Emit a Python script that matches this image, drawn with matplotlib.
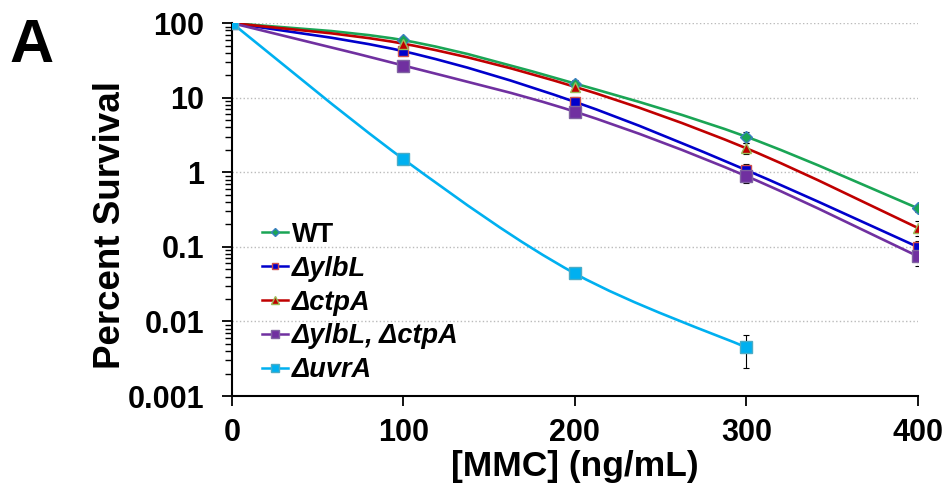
import numpy as np
import matplotlib.pyplot as plt
from matplotlib.path import Path
from matplotlib.patches import PathPatch
from matplotlib.lines import Line2D

plt.rcParams['font.family'] = ['Liberation Sans', 'DejaVu Sans']
plt.rcParams['font.weight'] = 'bold'

# data
mmc = [0, 100, 200, 300, 400]
labels = ['WT', '\u0394ylbL', '\u0394ctpA', '\u0394ylbL, \u0394ctpA', '\u0394uvrA']
wt = [100, 59, 15.5, 3.0, 0.33]
ylbl = [100, 42, 8.8, 1.07, 0.10]
ctpa = [100, 53, 14, 2.1, 0.18]
double = [100, 27, 6.5, 0.89, 0.075]
uvra = [100, 1.5, 0.044, 0.0045]
wt_err = [0, 4, 2.0, 0.5, 0.04]
ylbl_err = [0, 3, 1.3, 0.22, 0.02]
ctpa_err = [0, 4, 1.5, 0.35, 0.04]
double_err = [0, 2.5, 1.0, 0.17, 0.02]
uvra_err = [0, 0.1, 0.004, 0.0021]

series = [
    (wt, wt_err, '#1aa555', 'D', '#3a7fc0', 6.5),
    (ylbl, ylbl_err, '#0000cc', 's', '#d0504d', 7),
    (ctpa, ctpa_err, '#c00000', '^', '#9bbb59', 7.5),
    (double, double_err, '#7030a0', 's', '#8064a2', 9),
    (uvra, uvra_err, '#00b0f0', 's', '#4bacc6', 8),
]

fig = plt.figure(figsize=(9.49, 4.92), dpi=100)
ax = fig.add_axes([0.2445, 0.195, 0.7225, 0.758])
ax.set_yscale('log')
ax.set_xlim(0, 400)
ax.set_ylim(0.001, 100)


def smooth_path(x, y):
    # excel-like smoothed line: cubic bezier in log space
    lx = np.array(x, float)
    ly = np.log10(np.array(y, float))
    n = len(lx)
    verts = [(lx[0], ly[0])]
    codes = [Path.MOVETO]
    for i in range(n - 1):
        p0 = i - 1 if i > 0 else i
        p3 = i + 2 if i + 2 < n else i + 1
        c1 = (lx[i] + (lx[i + 1] - lx[p0]) / 6, ly[i] + (ly[i + 1] - ly[p0]) / 6)
        c2 = (lx[i + 1] - (lx[p3] - lx[i]) / 6, ly[i + 1] - (ly[p3] - ly[i]) / 6)
        verts += [c1, c2, (lx[i + 1], ly[i + 1])]
        codes += [Path.CURVE4] * 3
    verts = [(vx, 10 ** vy) for vx, vy in verts]
    return Path(verts, codes)


handles = []
for (vals, err, col, mk, edge, ms), lab in zip(series, labels):
    xs = mmc[:len(vals)]
    ax.add_patch(PathPatch(smooth_path(xs, vals), facecolor='none',
                           edgecolor=col, lw=1.9, zorder=3))
    ax.errorbar(xs, vals, yerr=err, fmt='none', ecolor='black',
                elinewidth=0.8, capsize=2.5, capthick=0.8, zorder=4)
    ax.plot(xs, vals, linestyle='none', marker=mk, ms=ms, mfc=col,
            mec=edge, mew=1, zorder=5)
    handles.append(Line2D([], [], color=col, lw=1.8, marker=mk, ms=ms * 0.7,
                          mfc=col, mec=edge, label=lab))

ax.grid(axis='y', which='major', color='#bbbbbb', linestyle=':', lw=1)
ax.set_axisbelow(True)
for s in ['top', 'right']:
    ax.spines[s].set_visible(False)
for s in ['left', 'bottom']:
    ax.spines[s].set_linewidth(1.5)

ax.set_xticks(mmc)
ax.set_yticks([0.001, 0.01, 0.1, 1, 10, 100])
ax.set_yticklabels(['0.001', '0.01', '0.1', '1', '10', '100'])
ax.tick_params(axis='both', which='major', direction='out', length=7,
               width=1.3, labelsize=22)
ax.tick_params(axis='y', which='major', pad=13)
ax.tick_params(axis='x', which='major', pad=9)
ax.tick_params(axis='y', which='minor', direction='out', length=5, width=1)
ax.set_xlabel('[MMC] (ng/mL)', fontsize=25.5, fontweight='bold', labelpad=1)
ax.set_ylabel('Percent Survival', fontsize=26.5, fontweight='bold')
ax.yaxis.set_label_coords(-0.152, 0.46)

leg = ax.legend(handles=handles, loc='upper left', bbox_to_anchor=(0.044, 0.467),
                frameon=False, handlelength=0.96, handletextpad=0.15,
                labelspacing=0.29, borderaxespad=0, borderpad=0,
                prop={'size': 19.5, 'weight': 'bold'})
for i, t in enumerate(leg.get_texts()):
    if i > 0:
        t.set_fontstyle('italic')

fig.text(0.01, 0.874, 'A', fontsize=44, fontweight='bold', va='baseline')

fig.savefig('out.png', dpi=100)
